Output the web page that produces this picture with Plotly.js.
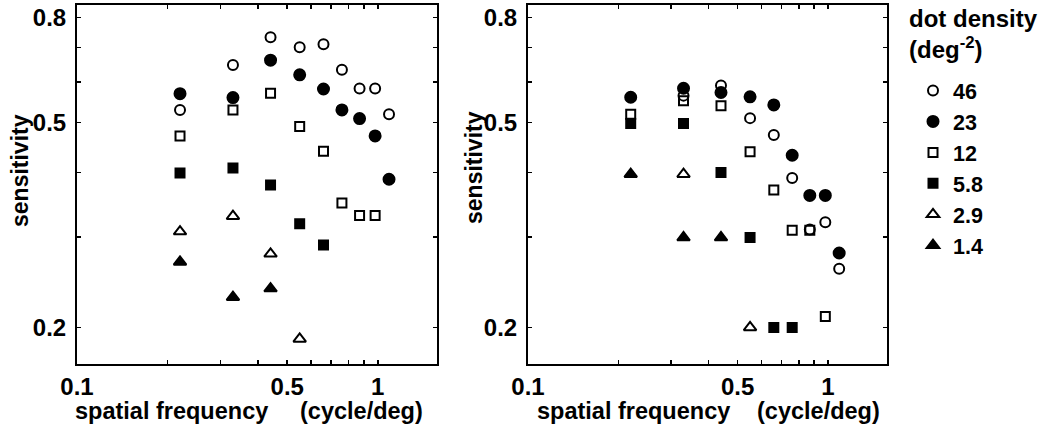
<!DOCTYPE html>
<html>
<head>
<meta charset="utf-8">
<script src="https://cdn.plot.ly/plotly-3.0.1.min.js"></script>
<style>html,body{margin:0;padding:0;background:#fff;}#chart{width:1041px;height:430px;}</style>
</head>
<body>
<div id="chart"></div>
<script>
// spatial frequency (cycle/deg)
const freqAll = [0.22, 0.33, 0.44, 0.55, 0.66, 0.76, 0.87, 0.98, 1.09];

// Left panel (sensitivity)
const leftX46  = [0.22, 0.33, 0.44, 0.55, 0.66, 0.76, 0.87, 0.98, 1.09];
const leftY46  = [0.529, 0.647, 0.732, 0.700, 0.710, 0.633, 0.582, 0.582, 0.519];
const leftX23  = [0.22, 0.33, 0.44, 0.55, 0.66, 0.76, 0.87, 0.98, 1.09];
const leftY23  = [0.569, 0.559, 0.661, 0.619, 0.581, 0.529, 0.509, 0.471, 0.388];
const leftX12  = [0.22, 0.33, 0.44, 0.55, 0.66, 0.76, 0.87, 0.98];
const leftY12  = [0.471, 0.529, 0.570, 0.491, 0.440, 0.349, 0.330, 0.330];
const leftX58  = [0.22, 0.33, 0.44, 0.55, 0.66];
const leftY58  = [0.399, 0.408, 0.378, 0.318, 0.289];
const leftX29  = [0.22, 0.33, 0.44, 0.55];
const leftY29  = [0.307, 0.329, 0.278, 0.190];
const leftX14  = [0.22, 0.33, 0.44];
const leftY14  = [0.268, 0.229, 0.238];

// Right panel (sensitivity)
const rightX46 = [0.33, 0.44, 0.55, 0.66, 0.76, 0.87, 0.98, 1.09];
const rightY46 = [0.564, 0.590, 0.510, 0.473, 0.390, 0.310, 0.320, 0.260];
const rightX23 = [0.22, 0.33, 0.44, 0.55, 0.66, 0.76, 0.87, 0.98, 1.09];
const rightY23 = [0.560, 0.583, 0.572, 0.561, 0.541, 0.432, 0.361, 0.361, 0.279];
const rightX12 = [0.22, 0.33, 0.44, 0.55, 0.66, 0.76, 0.87, 0.98];
const rightY12 = [0.519, 0.551, 0.539, 0.439, 0.370, 0.309, 0.309, 0.210];
const rightX58 = [0.22, 0.33, 0.44, 0.55, 0.66, 0.76];
const rightY58 = [0.498, 0.498, 0.400, 0.299, 0.200, 0.200];
const rightX29 = [0.33, 0.55];
const rightY29 = [0.397, 0.200];
const rightX14 = [0.22, 0.33, 0.44];
const rightY14 = [0.397, 0.299, 0.299];

// legend labels (dot density, deg^-2)
const legendTitle = 'dot density<br>(deg<sup>-2</sup>)';
const densityLabels = ['46', '23', '12', '5.8', '2.9', '1.4'];
const symbols = ['circle-open', 'circle', 'square-open', 'square', 'triangle-up-open', 'triangle-up'];
const sizes = [10, 11, 9, 9, 11, 11];

// tick labels
const xTickVals = [0.1, 0.2, 0.3, 0.4, 0.5, 0.6, 0.7, 0.8, 0.9, 1];
const xTickText = ['0.1', '', '', '', '0.5', '', '', '', '', '1'];
const yTickVals = [0.2, 0.3, 0.4, 0.5, 0.6, 0.7, 0.8];
const yTickText = ['0.2', '', '', '0.5', '', '', '0.8'];

const FONT = 'Liberation Sans, Arial, Helvetica, sans-serif';

const leftSets = [[leftX46, leftY46], [leftX23, leftY23], [leftX12, leftY12], [leftX58, leftY58], [leftX29, leftY29], [leftX14, leftY14]];
const rightSets = [[rightX46, rightY46], [rightX23, rightY23], [rightX12, rightY12], [rightX58, rightY58], [rightX29, rightY29], [rightX14, rightY14]];

const traces = [];
leftSets.forEach((s, i) => {
  traces.push({
    x: s[0], y: s[1], type: 'scatter', mode: 'markers', name: densityLabels[i],
    legendgroup: 'g' + i, showlegend: true, xaxis: 'x', yaxis: 'y',
    marker: {symbol: symbols[i], size: sizes[i], color: '#000', line: {color: '#000', width: 2}}
  });
});
rightSets.forEach((s, i) => {
  traces.push({
    x: s[0], y: s[1], type: 'scatter', mode: 'markers', name: densityLabels[i],
    legendgroup: 'g' + i, showlegend: false, xaxis: 'x2', yaxis: 'y2',
    marker: {symbol: symbols[i], size: sizes[i], color: '#000', line: {color: '#000', width: 2}}
  });
});

function xAx(domain, anchor) {
  return {
    domain: domain, anchor: anchor, type: 'log', range: [-1, 0.197],
    tickmode: 'array', tickvals: xTickVals, ticktext: xTickText,
    ticks: 'inside', ticklen: 4, tickwidth: 1.5, tickcolor: '#000',
    showline: true, linewidth: 2, linecolor: '#000', mirror: 'ticks',
    showgrid: false, zeroline: false,
    tickfont: {family: FONT, size: 24, color: '#000', weight: 'bold'}, ticklabelstandoff: 0
  };
}
function yAx(anchor) {
  return {
    domain: [0.15233, 0.98953], anchor: anchor, type: 'log', range: [-0.771, -0.0717],
    tickmode: 'array', tickvals: yTickVals, ticktext: yTickText,
    ticks: 'inside', ticklen: 4, tickwidth: 1.5, tickcolor: '#000',
    showline: true, linewidth: 2, linecolor: '#000', mirror: 'ticks',
    showgrid: false, zeroline: false,
    tickfont: {family: FONT, size: 24, color: '#000', weight: 'bold'}, ticklabelstandoff: 4
  };
}

const titleFont = {family: FONT, size: 23.5, color: '#000', weight: 'bold'};
const sensFont = {family: FONT, size: 23, color: '#000', weight: 'bold'};
const layout = {
  width: 1041, height: 430,
  margin: {l: 0, r: 0, t: 0, b: 0},
  paper_bgcolor: '#fff', plot_bgcolor: '#fff',
  xaxis: xAx([0.0740, 0.4198], 'y'),
  yaxis: yAx('x'),
  xaxis2: xAx([0.5072, 0.8521], 'y2'),
  yaxis2: yAx('x2'),
  showlegend: true,
  legend: {
    x: 913/1041, y: 1 - 70/430, xanchor: 'left', yanchor: 'top',
    bgcolor: 'rgba(0,0,0,0)', borderwidth: 0,
    font: {family: FONT, size: 21.5, color: '#000', weight: 'bold'},
    itemsizing: 'trace', traceorder: 'normal', tracegroupgap: 0
  },
  annotations: [
    {text: legendTitle, xref: 'paper', yref: 'paper', x: 907/1041, y: 1 - 3/430, showarrow: false, xanchor: 'left', yanchor: 'top', align: 'left', font: {family: FONT, size: 24, color: '#000', weight: 'bold'}},
    {text: 'sensitivity', xref: 'paper', yref: 'paper', x: 20/1041, y: 1 - 171/430, textangle: -90, showarrow: false, xanchor: 'center', yanchor: 'middle', font: sensFont},
    {text: 'sensitivity', xref: 'paper', yref: 'paper', x: 474/1041, y: 1 - 168/430, textangle: -90, showarrow: false, xanchor: 'center', yanchor: 'middle', font: sensFont},
    {text: 'spatial frequency', xref: 'paper', yref: 'paper', x: 73/1041, y: 1 - 411/430, showarrow: false, xanchor: 'left', yanchor: 'middle', font: titleFont},
    {text: '(cycle/deg)', xref: 'paper', yref: 'paper', x: 298/1041, y: 1 - 411/430, showarrow: false, xanchor: 'left', yanchor: 'middle', font: titleFont},
    {text: 'spatial frequency', xref: 'paper', yref: 'paper', x: 535/1041, y: 1 - 411/430, showarrow: false, xanchor: 'left', yanchor: 'middle', font: titleFont},
    {text: '(cycle/deg)', xref: 'paper', yref: 'paper', x: 755/1041, y: 1 - 411/430, showarrow: false, xanchor: 'left', yanchor: 'middle', font: titleFont}
  ]
};

Plotly.newPlot('chart', traces, layout, {staticPlot: true, displayModeBar: false});
</script>
</body>
</html>
